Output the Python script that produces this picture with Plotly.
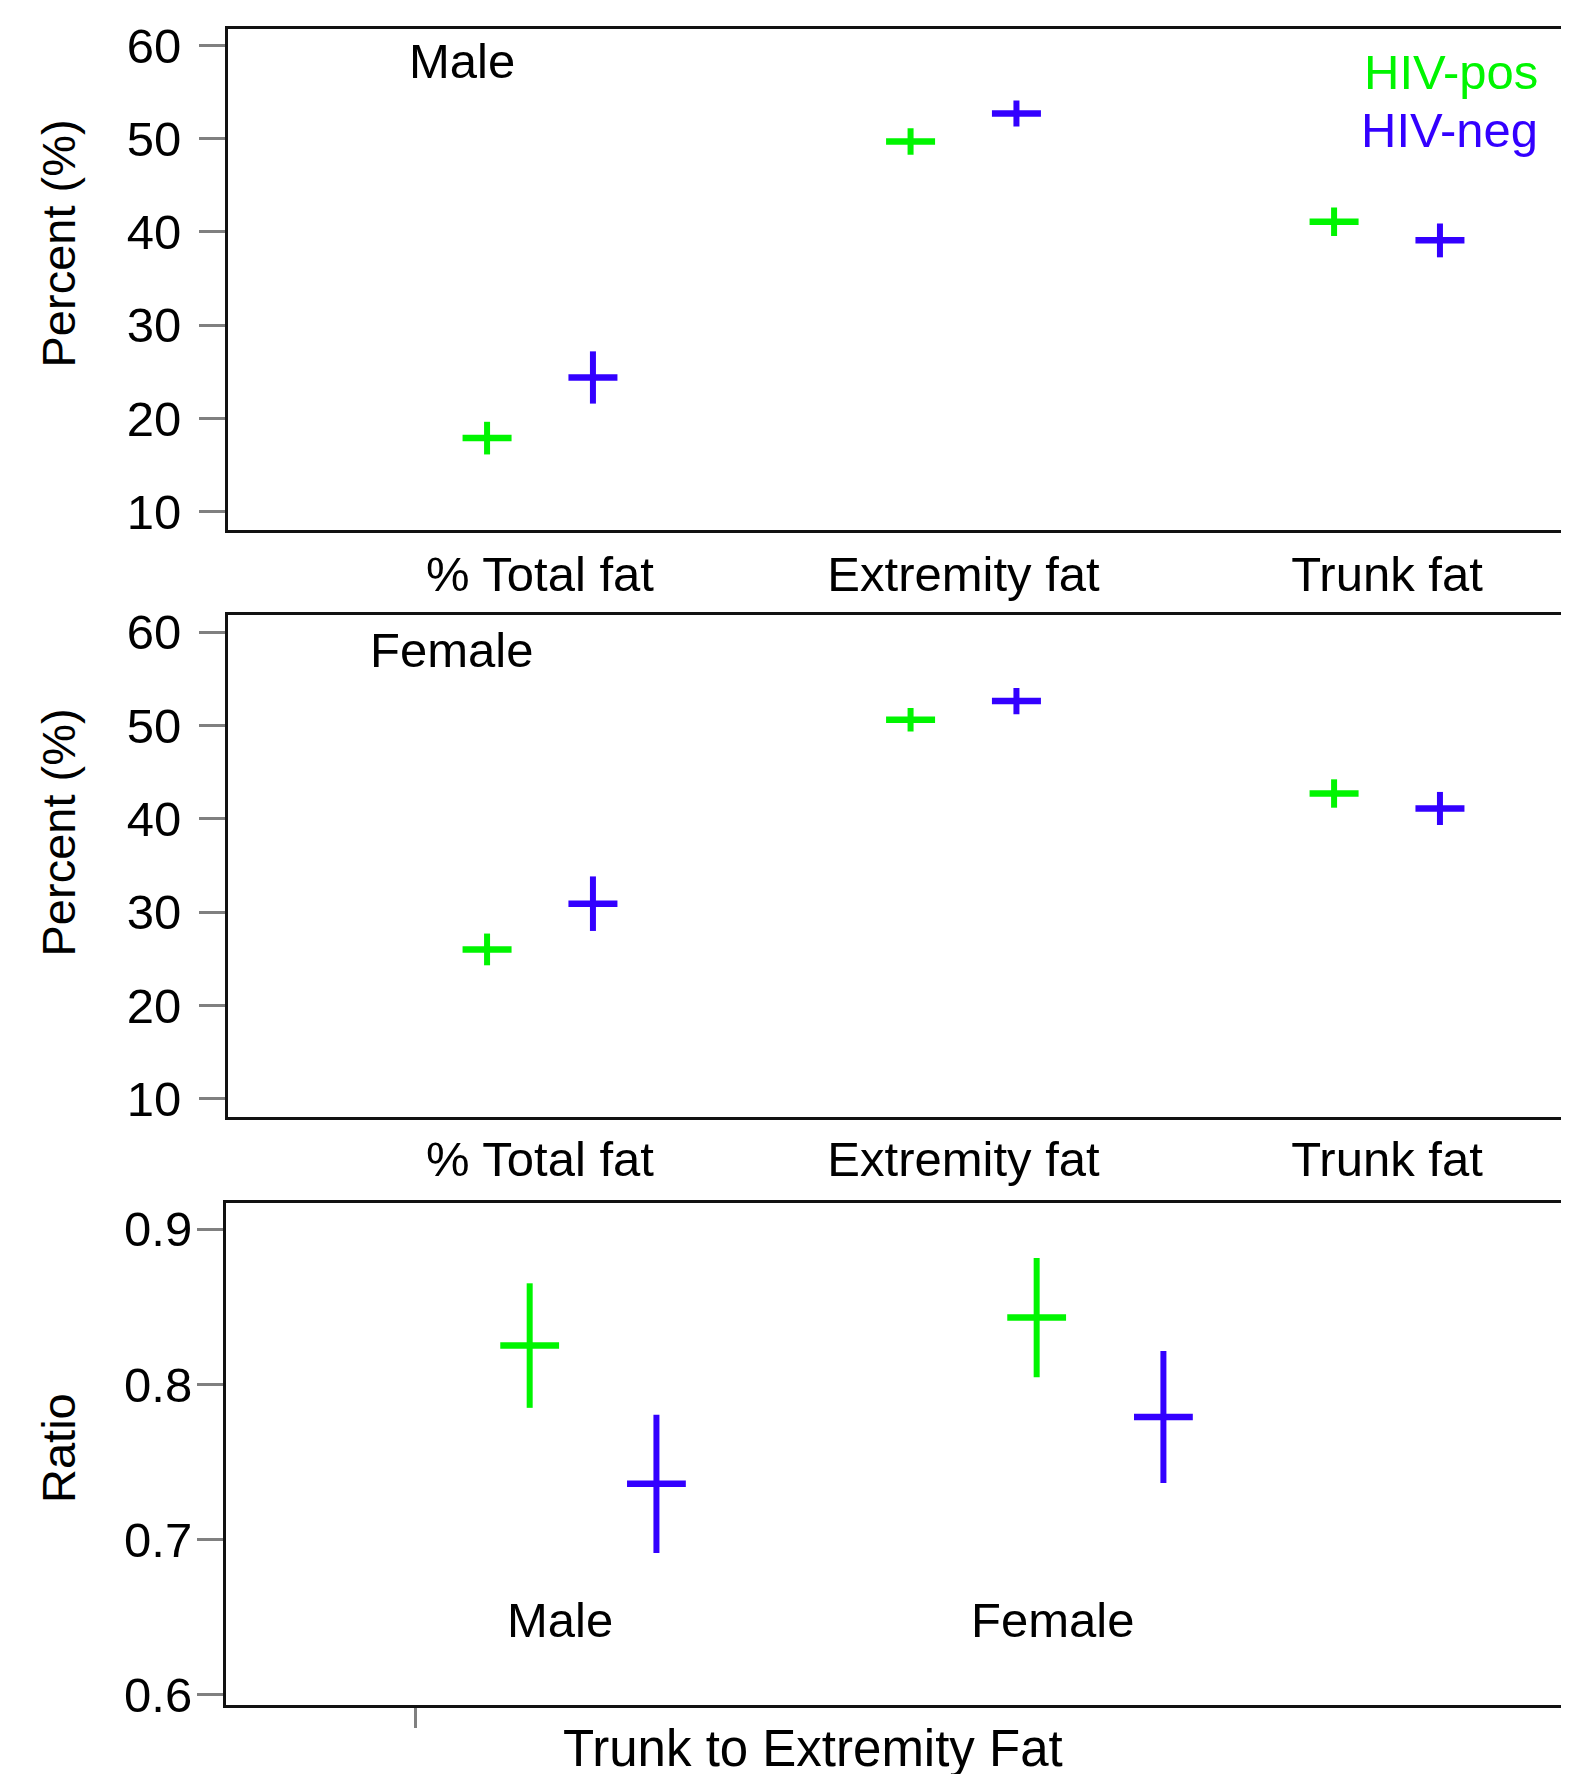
import plotly.graph_objects as go

# ---- data ----
fat_categories = ["% Total fat", "Extremity fat", "Trunk fat"]
male_pos = [17.9, 49.7, 41.1]
male_pos_err = [1.75, 1.42, 1.52]
male_neg = [24.4, 52.7, 39.1]
male_neg_err = [2.8, 1.4, 1.82]
female_pos = [26.0, 50.6, 42.7]
female_pos_err = [1.7, 1.25, 1.52]
female_neg = [30.9, 52.6, 41.1]
female_neg_err = [2.92, 1.4, 1.77]

ratio_categories = ["Male", "Female"]
ratio_pos = [0.825, 0.843]
ratio_pos_err = [0.0401, 0.0384]
ratio_neg = [0.736, 0.779]
ratio_neg_err = [0.0445, 0.0425]

pct_ticks = [10, 20, 30, 40, 50, 60]
ratio_ticks = [0.6, 0.7, 0.8, 0.9]
ratio_tick_text = ["0.6", "0.7", "0.8", "0.9"]

GREEN = "#00f500"
BLUE = "#3300ff"
FONT = "Liberation Sans, Arial, sans-serif"
FS = 49
OFF = 0.125

W, H = 1569, 1774
PAGE = 8  # page body margin offset


def fx(s):
    return (s - PAGE) / W


def fy(s):
    return 1 - (s - PAGE) / H


fig = go.Figure()


def add_pair(xaxis, yaxis, n, pos, pos_err, neg, neg_err, msize):
    idx = list(range(1, n + 1))
    for vals, errs, col, off in ((pos, pos_err, GREEN, -OFF), (neg, neg_err, BLUE, OFF)):
        fig.add_trace(go.Scatter(
            x=[i + off for i in idx], y=vals, mode="markers",
            xaxis=xaxis, yaxis=yaxis, showlegend=False, hoverinfo="skip",
            marker=dict(symbol="line-ew", size=msize, color=col,
                        line=dict(color=col, width=6.5)),
            error_y=dict(type="data", array=errs, visible=True,
                         color=col, thickness=6, width=0),
        ))


add_pair("x", "y", 3, male_pos, male_pos_err, male_neg, male_neg_err, 35)
add_pair("x2", "y2", 3, female_pos, female_pos_err, female_neg, female_neg_err, 35)
add_pair("x3", "y3", 2, ratio_pos, ratio_pos_err, ratio_neg, ratio_neg_err, 42)

tickfont = dict(family=FONT, size=FS, color="black")

xcommon = dict(showline=True, linecolor="#111111", linewidth=3, mirror=True,
               showgrid=False, zeroline=False, tickfont=tickfont)
ycommon = dict(showline=True, linecolor="#111111", linewidth=3, mirror=False,
               showgrid=False, zeroline=False, tickfont=tickfont,
               ticks="outside", tickcolor="#808080", tickwidth=3, ticklen=26)

fig.update_layout(
    width=W, height=H, autosize=False,
    margin=dict(l=0, r=0, t=0, b=0, autoexpand=False),
    paper_bgcolor="white", plot_bgcolor="white",
    font=dict(family=FONT, size=FS, color="black"),
    xaxis=dict(domain=[fx(228), 1], range=[0.2633, 3.4486], anchor="y",
               tickvals=[1, 2, 3], ticktext=fat_categories, ticks="",
               ticklabelstandoff=-1, **xcommon),
    yaxis=dict(domain=[fy(530), fy(28.6)], range=[8.05, 61.8], anchor="x",
               tickvals=pct_ticks, ticklabelstandoff=8, **ycommon),
    xaxis2=dict(domain=[fx(228), 1], range=[0.2633, 3.4486], anchor="y2",
                tickvals=[1, 2, 3], ticktext=fat_categories, ticks="",
                ticklabelstandoff=-3, **xcommon),
    yaxis2=dict(domain=[fy(1117), fy(615.2)], range=[8.05, 61.8], anchor="x2",
                tickvals=pct_ticks, ticklabelstandoff=8, **ycommon),
    xaxis3=dict(domain=[fx(226), 1], range=[0.276, 2.9408], anchor="y3",
                tickvals=[0.649], ticktext=[""], ticks="outside",
                tickcolor="#808080", tickwidth=3, ticklen=20, **xcommon),
    yaxis3=dict(domain=[fy(1704.6), fy(1202.7)], range=[0.5938, 0.917], anchor="x3",
                tickvals=ratio_ticks, ticktext=ratio_tick_text,
                ticklabelstandoff=-5, **ycommon),
)

ann = []
# y-axis titles
for txt, yc in (("Percent (%)", 243.5), ("Percent (%)", 832.5), ("Ratio", 1448)):
    ann.append(dict(text=txt, xref="paper", yref="paper", x=fx(58), y=fy(yc),
                    xanchor="center", yanchor="middle", textangle=-90, showarrow=False,
                    font=dict(family=FONT, size=47, color="black")))
# panel labels
ann.append(dict(text="Male", xref="paper", yref="paper", x=fx(462), y=fy(61),
                xanchor="center", yanchor="middle", showarrow=False))
ann.append(dict(text="Female", xref="paper", yref="paper", x=fx(451), y=fy(650),
                xanchor="center", yanchor="middle", showarrow=False))
# legend texts
ann.append(dict(text="HIV-pos", xref="paper", yref="paper", x=fx(1540), y=fy(72),
                xanchor="right", yanchor="middle", showarrow=False,
                font=dict(family=FONT, size=FS, color=GREEN)))
ann.append(dict(text="HIV-neg", xref="paper", yref="paper", x=fx(1540), y=fy(130),
                xanchor="right", yanchor="middle", showarrow=False,
                font=dict(family=FONT, size=FS, color=BLUE)))
# bottom panel category labels
for i, name in enumerate(ratio_categories):
    ann.append(dict(text=name, xref="x3", yref="paper", x=[0.935, 1.907][i], y=fy(1620),
                    xanchor="center", yanchor="middle", showarrow=False))
ann.append(dict(text="Trunk to Extremity Fat", xref="paper", yref="paper", x=fx(813),
                y=fy(1748), xanchor="center", yanchor="middle", showarrow=False,
                font=dict(family=FONT, size=51, color="black")))
fig.update_layout(annotations=ann)

fig.write_html("out.html")
